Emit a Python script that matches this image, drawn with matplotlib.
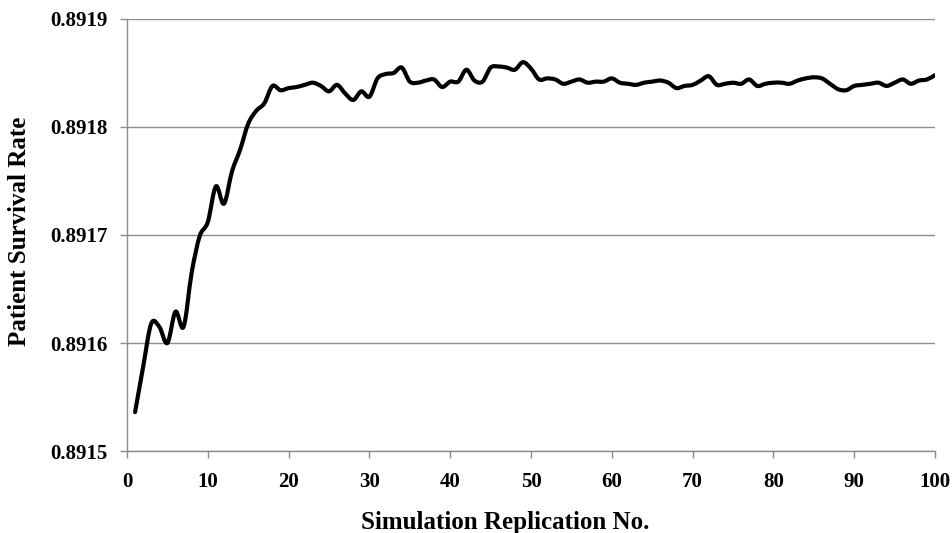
import matplotlib.pyplot as plt
import numpy as np
from matplotlib.path import Path
from matplotlib.patches import PathPatch

# Running mean of patient survival rate after each simulation replication
replication = np.arange(1, 101)
survival_rate = [
    0.891536, 0.891578, 0.891618, 0.891615, 0.891600, 0.891629, 0.891615, 0.891665, 0.891699, 0.891712,
    0.891745, 0.891729, 0.891759, 0.891779, 0.891803, 0.891815, 0.891822, 0.891838, 0.891834, 0.891836,
    0.891837, 0.891839, 0.891841, 0.891838, 0.891833, 0.891839, 0.891831, 0.891825, 0.891833, 0.891828,
    0.891845, 0.891849, 0.891850, 0.891855, 0.891842, 0.891841, 0.891843, 0.891844, 0.891837, 0.891842,
    0.891842, 0.891853, 0.891843, 0.891842, 0.891855, 0.891856, 0.891855, 0.891853, 0.891860, 0.891854,
    0.891844, 0.891845, 0.891844, 0.891840, 0.891842, 0.891844, 0.891841, 0.891842, 0.891842, 0.891845,
    0.891841, 0.891840, 0.891839, 0.891841, 0.891842, 0.891843, 0.891841, 0.891836, 0.891838, 0.891839,
    0.891843, 0.891847, 0.891839, 0.891840, 0.891841, 0.891840, 0.891844, 0.891838, 0.891840, 0.891841,
    0.891841, 0.891840, 0.891843, 0.891845, 0.891846, 0.891845, 0.891840, 0.891835, 0.891834, 0.891838,
    0.891839, 0.891840, 0.891841, 0.891838, 0.891841, 0.891844, 0.891840, 0.891843, 0.891844, 0.891848,
]
x_ticks = np.arange(0, 101, 10)
y_ticks = [0.8915, 0.8916, 0.8917, 0.8918, 0.8919]

plt.rcParams['font.family'] = ['Liberation Serif', 'DejaVu Serif']
plt.rcParams['font.weight'] = 'bold'


def smooth_path(xs, ys):
    # Catmull-Rom segments expressed as cubic Bezier curves (smoothed line)
    pts = np.column_stack([xs, ys]).astype(float)
    ext = np.vstack([pts[0], pts, pts[-1]])
    verts = [pts[0]]
    codes = [Path.MOVETO]
    for i in range(1, len(ext) - 2):
        p0, p1, p2, p3 = ext[i - 1], ext[i], ext[i + 1], ext[i + 2]
        verts += [p1 + (p2 - p0) / 6, p2 - (p3 - p1) / 6, p2]
        codes += [Path.CURVE4] * 3
    return Path(verts, codes)


fig = plt.figure(figsize=(9.52, 5.33), dpi=100)
ax = fig.add_axes([0.1334, 0.1538, 0.8488, 0.8106])

ax.add_patch(PathPatch(smooth_path(replication, survival_rate), facecolor='none',
                       edgecolor='black', linewidth=3.0, capstyle='round', joinstyle='round', zorder=3))

ax.set_xlim(0, 100)
ax.set_ylim(0.8915, 0.8919)
ax.set_xticks(x_ticks)
ax.set_yticks(y_ticks)
ax.set_yticklabels([f'{v:.4f}' for v in y_ticks])

ax.grid(True, axis='y', color='#8c8c8c', linewidth=1.0)
ax.set_axisbelow(True)
for side in ['top', 'right']:
    ax.spines[side].set_visible(False)
for side in ['left', 'bottom']:
    ax.spines[side].set_color('#8c8c8c')
    ax.spines[side].set_linewidth(1.0)

ax.tick_params(axis='both', colors='#8c8c8c', length=5, width=1.0, labelcolor='black', labelsize=15)
ax.tick_params(axis='x', pad=10)
ax.tick_params(axis='y', pad=9)

fig.text(505 / 952, 4 / 533, 'Simulation Replication No.', ha='center', va='baseline',
         fontsize=18, fontweight='bold')
fig.text(20 / 952, 1 - 231 / 533, 'Patient Survival Rate', ha='center', va='center',
         rotation=90, fontsize=18, fontweight='bold')

fig.savefig('out.png', dpi=100)
